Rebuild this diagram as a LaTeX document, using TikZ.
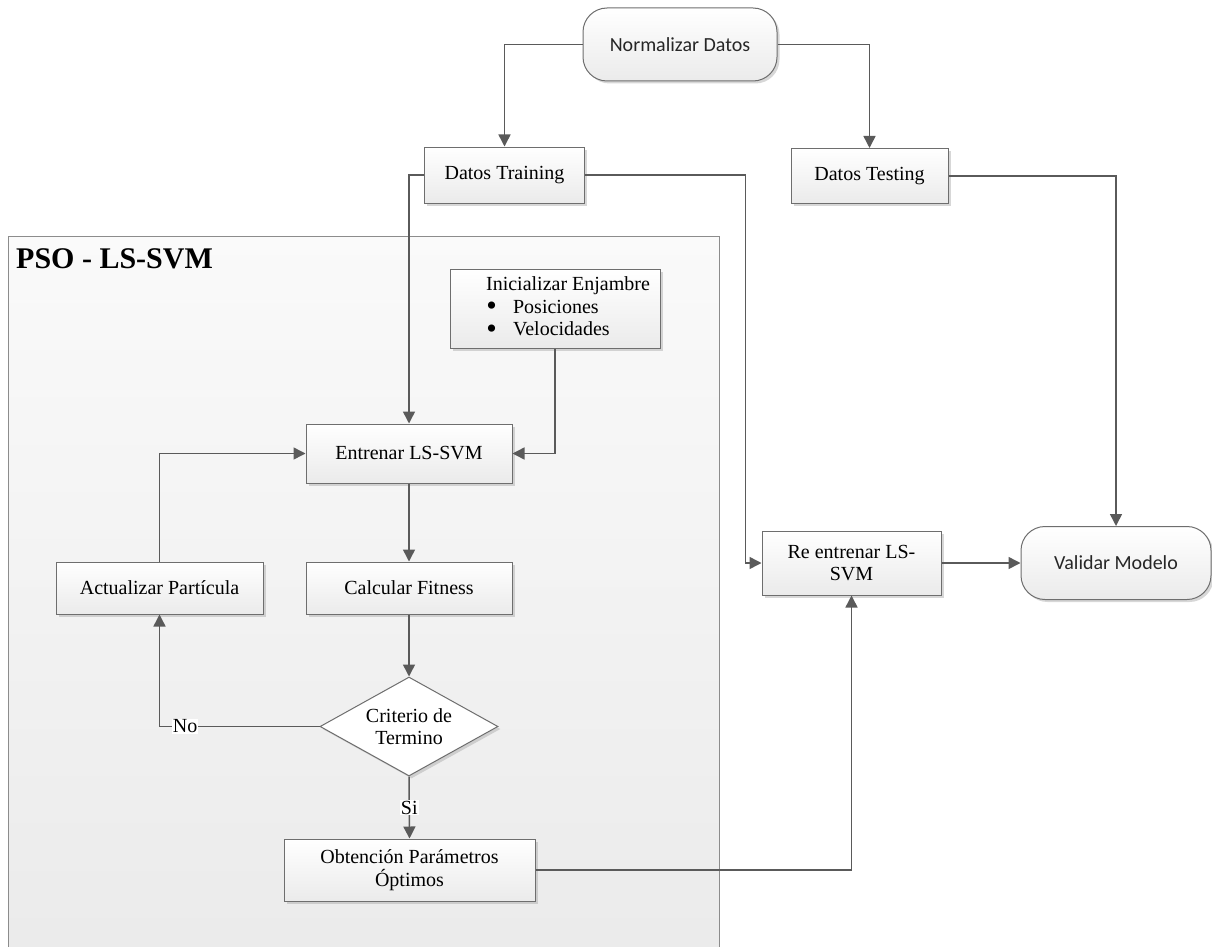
\documentclass[tikz,border=0pt]{standalone}
\usepackage{fontspec}
\setmainfont{Liberation Serif}
\newfontfamily\calib{Carlito}
\usetikzlibrary{arrows.meta,shapes.geometric,shadows}

\definecolor{linegray}{HTML}{5A5A5A}
\definecolor{edgegray}{HTML}{6E6E6E}

% enlarged list bullet that does not change the line height
\newcommand{\bigdot}{\makebox[9pt]{\raisebox{-2.5pt}[0pt][0pt]{\scalebox{1.5}{\textbullet}}}}

\tikzset{
  base/.style={font=\fontsize{20}{22.5}\selectfont, text=black, draw=edgegray, line width=1pt,
    top color=white, bottom color=black!8, inner sep=2pt, align=center,
    drop shadow={shadow xshift=2.5pt, shadow yshift=-2.5pt, fill=black!35, opacity=.45}},
  procbox/.style={base, rectangle},
  termbox/.style={base, rectangle, rounded corners=24pt, font=\calib\fontsize{20}{22}\selectfont, text=black!85},
  decbox/.style={base, diamond, aspect=1.8, inner sep=0pt, top color=white, bottom color=white},
  conn/.style={draw=linegray, line width=1.5pt},
  arr/.style={conn, -{Triangle[length=12pt,width=12pt]}},
  tag/.style={fill=white, inner sep=1pt, font=\fontsize{20}{22}\selectfont},
}

\begin{document}
\begin{tikzpicture}[x=1pt,y=-1pt]
\useasboundingbox (0,0) rectangle (1212,947);
\clip (0,0) rectangle (1212,947);

% grouping panel for the optimisation loop
\path[draw=black!45, line width=0.8pt, top color=black!2, bottom color=black!8]
  (8,236) rectangle (719,960);
\node[anchor=north west, font=\bfseries\fontsize{30}{32}\selectfont, inner sep=0pt] (paneltitle) at (16,248) {PSO - LS-SVM};

% nodes
\node[termbox, minimum width=194pt, minimum height=73pt] (norm) at (680,44.5) {Normalizar Datos};
\node[procbox, minimum width=160pt, minimum height=56pt] (train) at (504.5,175) {Datos Training};
\node[procbox, minimum width=157pt, minimum height=55pt] (test) at (869.5,176) {Datos Testing};

\node[procbox, minimum width=210pt, minimum height=79pt] (init) at (555,308.5)
  {\hspace{26pt}\begin{tabular}{@{}l@{}}Inicializar Enjambre\\[0pt]
   \hspace{1pt}\bigdot\hspace{17pt}Posiciones\\[0pt]
   \hspace{1pt}\bigdot\hspace{17pt}Velocidades\end{tabular}};

\node[procbox, minimum width=206pt, minimum height=59pt] (entr) at (409,453.5) {Entrenar LS-SVM};
\node[procbox, minimum width=206pt, minimum height=52pt] (calc) at (409,588) {Calcular Fitness};
\node[procbox, minimum width=207pt, minimum height=52pt] (act) at (159.5,588) {Actualizar Partícula};
\node[decbox, minimum width=178pt, minimum height=99pt] (crit) at (409,726.5) {Criterio de\\Termino};
\node[procbox, minimum width=251pt, minimum height=62pt] (obt) at (409.5,870) {Obtención Parámetros\\Óptimos};

\node[procbox, minimum width=179pt, minimum height=64pt] (reent) at (851.5,563) {Re entrenar LS-\\SVM};
\node[termbox, minimum width=190pt, minimum height=73pt] (valid) at (1116,563) {Validar Modelo};

% connectors
\draw[arr] (norm.west) -| (train.north);
\draw[arr] (norm.east) -| (test.north);
\draw[arr] (train.west) -| (entr.north);
\draw[arr] (train.east) -- ++(160.5,0) |- (reent.west);
\draw[arr] (test.east) -| (valid.north);
\draw[arr] (init.south) |- (entr.east);
\draw[arr] (entr) -- (calc);
\draw[arr] (calc) -- (crit);
\draw[arr] (crit.west) -| node[tag, pos=0.42] {No} (act.south);
\draw[arr] (act.north) |- (entr.west);
\draw[arr] (crit.south) -- node[tag, pos=0.5] {Si} (obt.north);
\draw[arr] (obt.east) -| (reent.south);
\draw[arr] (reent.east) -- (valid.west);
\end{tikzpicture}
\end{document}
